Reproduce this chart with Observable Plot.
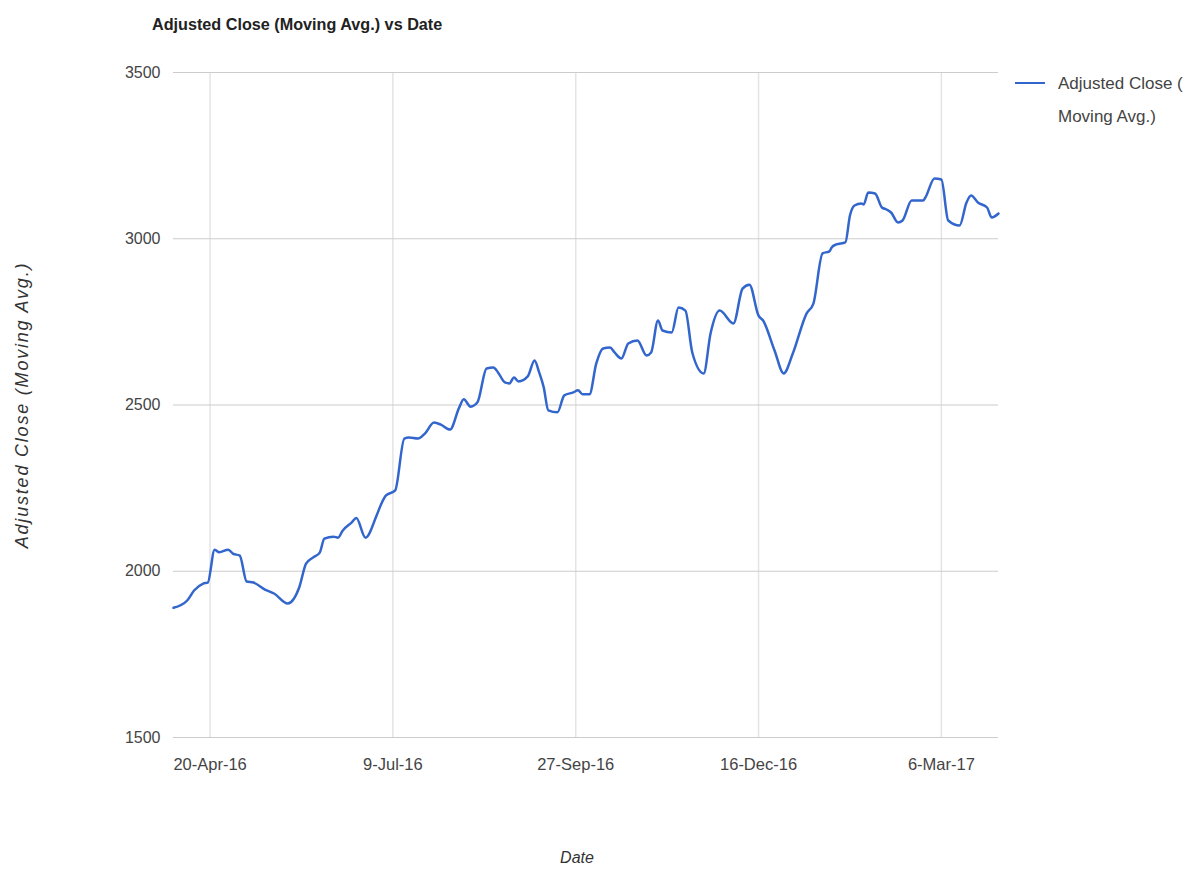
<!DOCTYPE html>
<html>
<head>
<meta charset="utf-8">
<script src="https://cdn.jsdelivr.net/npm/d3@7"></script>
<script src="https://cdn.jsdelivr.net/npm/@observablehq/plot@0.6"></script>
<style>
  html, body { margin: 0; padding: 0; background: #fff; }
  #wrap { position: relative; width: 1199px; height: 870px; overflow: hidden; font-family: "Liberation Sans", Arial, sans-serif; }
  #chart { position: absolute; left: 0; top: 0; }
  .title { position: absolute; left: 152px; top: 15px; font-size: 16.2px; font-weight: bold; color: #222; white-space: nowrap; }
  .ylab { position: absolute; left: 22px; top: 405px; transform: translate(-50%, -50%) rotate(-90deg); font-size: 18px; letter-spacing: 1.8px; font-style: italic; color: #333; white-space: nowrap; }
  .xlab { position: absolute; left: 577px; top: 858px; transform: translate(-50%, -50%); font-size: 16px; font-style: italic; color: #333; white-space: nowrap; }
  .legend { position: absolute; left: 1015px; top: 72px; font-size: 17px; color: #444; }
  .legend .sw { position: absolute; left: 0; top: 10px; width: 30px; height: 0; border-top: 2.5px solid #3366cc; }
  .legend .tx { position: absolute; left: 43px; top: 0; line-height: 33px; margin-top: -5px; white-space: nowrap; }
</style>
</head>
<body>
<div id="wrap">
  <div id="chart"></div>
  <div class="title">Adjusted Close (Moving Avg.) vs Date</div>
  <div class="ylab">Adjusted Close (Moving Avg.)</div>
  <div class="xlab">Date</div>
  <div class="legend"><div class="sw"></div><div class="tx">Adjusted Close (<br>Moving Avg.)</div></div>
</div>
<script>
const dates = [
  "2016-04-04","2016-04-10","2016-04-13","2016-04-17","2016-04-19","2016-04-22","2016-04-24","2016-04-28","2016-04-30",
  "2016-05-03","2016-05-06","2016-05-09","2016-05-14","2016-05-18","2016-05-24","2016-05-29",
  "2016-06-01","2016-06-04","2016-06-07","2016-06-09","2016-06-13","2016-06-15","2016-06-17","2016-06-21","2016-06-23","2016-06-27",
  "2016-07-02","2016-07-04","2016-07-06","2016-07-10","2016-07-14","2016-07-16","2016-07-20","2016-07-23","2016-07-27","2016-07-30",
  "2016-08-03","2016-08-07","2016-08-09","2016-08-12","2016-08-15","2016-08-19","2016-08-22","2016-08-24","2016-08-27","2016-08-29","2016-08-31",
  "2016-09-02","2016-09-06","2016-09-09","2016-09-11","2016-09-13","2016-09-15","2016-09-19","2016-09-22","2016-09-26","2016-09-28","2016-09-30",
  "2016-10-03","2016-10-06","2016-10-09","2016-10-12","2016-10-14","2016-10-17","2016-10-20","2016-10-24","2016-10-28","2016-10-30",
  "2016-11-02","2016-11-04","2016-11-08","2016-11-11","2016-11-14","2016-11-17","2016-11-22","2016-11-25","2016-11-29",
  "2016-12-05","2016-12-09","2016-12-12","2016-12-16","2016-12-18","2016-12-23","2016-12-27","2016-12-31",
  "2017-01-06","2017-01-09","2017-01-13","2017-01-16","2017-01-17","2017-01-19","2017-01-23","2017-01-25","2017-01-27","2017-01-30","2017-01-31",
  "2017-02-02","2017-02-05","2017-02-08","2017-02-10","2017-02-12","2017-02-15","2017-02-17","2017-02-21","2017-02-26","2017-02-27",
  "2017-03-03","2017-03-06","2017-03-09","2017-03-14","2017-03-17","2017-03-19","2017-03-22","2017-03-26","2017-03-28","2017-03-31"
];
const adjClose = [
  1890,1912,1942,1963,1966,2065,2057,2065,2053,
  2047,1969,1966,1945,1933,1903,1951,
  2023,2041,2056,2098,2104,2101,2122,2147,2160,2101,
  2170,2204,2228,2243,2399,2402,2399,2414,2447,2441,
  2426,2492,2517,2495,2508,2610,2613,2598,2568,2565,2583,
  2571,2586,2634,2598,2553,2484,2478,2529,2538,2544,2532,
  2532,2625,2670,2673,2658,2640,2685,2694,2649,2658,
  2754,2724,2718,2793,2784,2658,2595,2715,2784,
  2745,2850,2862,2769,2754,2664,2595,2655,
  2775,2805,2956,2962,2974,2983,2989,3070,3100,3106,3103,
  3139,3136,3094,3088,3079,3049,3055,3115,3115,3124,
  3181,3178,3055,3040,3109,3130,3109,3094,3064,3076
];
const xTickDates = ["2016-04-20","2016-07-09","2016-09-27","2016-12-16","2017-03-06"];
const yTicks = [1500, 2000, 2500, 3000, 3500];

const data = dates.map((d, i) => ({date: new Date(d), value: adjClose[i]}));
const xt = xTickDates.map(d => new Date(d));
const fmt = d3.utcFormat("%-d-%b-%y");

const chart = Plot.plot({
  width: 1199,
  height: 870,
  marginLeft: 173,
  marginRight: 201,
  marginTop: 72,
  marginBottom: 133,
  style: {fontFamily: "'Liberation Sans', Arial, sans-serif", fontSize: "15.5px", color: "#444", background: "#fff"},
  x: {type: "utc", domain: [data[0].date, data[data.length - 1].date]},
  y: {domain: [1500, 3500]},
  marks: [
    Plot.gridX(xt, {stroke: "#e4e4e4", strokeOpacity: 1, strokeWidth: 1.5}),
    Plot.gridY(yTicks, {stroke: "#cccccc", strokeOpacity: 1, strokeWidth: 1.2}),
    Plot.axisX(xt, {tickSize: 0, tickPadding: 21, tickFormat: fmt, label: null, fill: "#444", fontSize: 16.5}),
    Plot.axisY(yTicks, {tickSize: 0, tickPadding: 13, tickFormat: d => String(d), label: null, fill: "#444", fontSize: 16}),
    Plot.line(data, {x: "date", y: "value", stroke: "#3366cc", strokeWidth: 2.5, curve: "monotone-x"})
  ]
});
document.getElementById("chart").appendChild(chart);
</script>
</body>
</html>
